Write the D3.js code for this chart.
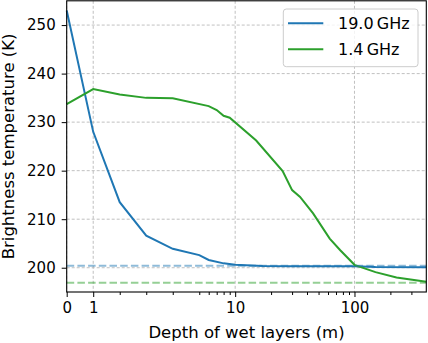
<!DOCTYPE html>
<html>
<head>
<meta charset="utf-8">
<script src="https://cdn.jsdelivr.net/npm/d3@7"></script>
<style>
body { margin: 0; background: #fff; }
text { font-family: "DejaVu Sans", sans-serif; fill: #000; }
</style>
</head>
<body>
<script>
var width = 428, height = 343;

// 19.0 GHz curve
var depth19 = [0, 1, 2, 3, 4, 5, 6, 8, 10, 17, 30, 100, 150, 400];
var tb19 = [253.0, 228.0, 213.5, 206.6, 203.9, 202.6, 201.6, 200.9, 200.6, 200.35, 200.3, 200.3, 200.15, 200.1];

// 1.4 GHz curve
var depth14 = [0, 1, 2, 3, 4, 6, 7, 8, 9, 15, 25, 30, 35, 45, 62, 76, 100, 150, 225, 400];
var tb14 = [233.7, 236.8, 235.7, 235.0, 234.9, 233.3, 232.5, 231.3, 230.9, 226.2, 219.9, 216.0, 214.6, 211.2, 206.0, 203.6, 200.6, 199.1, 198.0, 197.1];

// dashed reference levels
var ref19 = 200.4, ref14 = 196.9;

var xTicks = [0, 1, 10, 100];
var xTickLabels = ["0", "1", "10", "100"];
var xMinor = [2, 3, 4, 5, 6, 7, 8, 9, 20, 30, 40, 50, 60, 70, 80, 90, 200, 300];
var yTicks = [200, 210, 220, 230, 240, 250];

var c19 = "#1f77b4", c14 = "#2ca02c";

// symlog, linthresh 5, linscale 1
var linthresh = 5, linadj = 1 / 0.9;
function fwd(v) {
  return v <= linthresh ? v / linthresh * linadj : linadj + Math.log10(v / linthresh);
}

var pL = 66.7, pR = 426.3, pT = 0.8, pB = 292;
var xs = d3.scaleLinear().domain([0, fwd(400)]).range([pL, pR]);
var ys = d3.scaleLinear().domain([195, 255]).range([pB, pT]);
function x(v) { return xs(fwd(v)); }

var svg = d3.select('body').append('svg').attr('width', width).attr('height', height);

// grid
svg.append('g').selectAll('line').data(xTicks).join('line')
  .attr('x1', d => x(d)).attr('x2', d => x(d)).attr('y1', pT).attr('y2', pB)
  .attr('stroke', '#b0b0b0').attr('stroke-width', 0.8).attr('stroke-dasharray', '3,2');
svg.append('g').selectAll('line').data(yTicks).join('line')
  .attr('x1', pL).attr('x2', pR).attr('y1', d => ys(d)).attr('y2', d => ys(d))
  .attr('stroke', '#b0b0b0').attr('stroke-width', 0.8).attr('stroke-dasharray', '3,2');

// curves
var line = d3.line().x(d => x(d[0])).y(d => ys(d[1]));
svg.append('path').datum(d3.zip(depth19, tb19)).attr('d', line)
  .attr('fill', 'none').attr('stroke', c19).attr('stroke-width', 2);
svg.append('path').datum(d3.zip(depth14, tb14)).attr('d', line)
  .attr('fill', 'none').attr('stroke', c14).attr('stroke-width', 2);

// reference levels
[[ref19, c19], [ref14, c14]].forEach(function(r) {
  svg.append('line').attr('x1', pL).attr('x2', pR)
    .attr('y1', ys(r[0])).attr('y2', ys(r[0]))
    .attr('stroke', r[1]).attr('stroke-opacity', 0.5).attr('stroke-width', 2)
    .attr('stroke-dasharray', '7.5,3.2');
});

// axes
svg.append('g').attr('transform', 'translate(0,' + pB + ')')
  .call(d3.axisBottom(xs).tickValues(xTicks.map(fwd)).tickSize(5).tickPadding(5)
    .tickFormat((d, i) => xTickLabels[i]));
svg.append('g').attr('transform', 'translate(0,' + pB + ')')
  .call(d3.axisBottom(xs).tickValues(xMinor.map(fwd)).tickSize(3).tickFormat(''));
svg.append('g').attr('transform', 'translate(' + pL + ',0)')
  .call(d3.axisLeft(ys).tickValues(yTicks).tickSize(5).tickPadding(6));
svg.selectAll('.domain').remove();
svg.selectAll('.tick line').attr('stroke', '#000').attr('stroke-width', 1);
svg.selectAll('.tick text').style('font-size', '15px').style('font-family', '"DejaVu Sans", sans-serif');

// frame
svg.append('rect').attr('x', pL).attr('y', pT).attr('width', pR - pL).attr('height', pB - pT)
  .attr('fill', 'none').attr('stroke', '#000').attr('stroke-width', 1.1);

// labels
svg.append('text').attr('x', (pL + pR) / 2).attr('y', 337.5).attr('text-anchor', 'middle')
  .style('font-size', '16.5px').text('Depth of wet layers (m)');
svg.append('text').attr('transform', 'translate(13.5,' + (pT + pB) / 2 + ') rotate(-90)')
  .attr('text-anchor', 'middle').style('font-size', '16.5px').text('Brightness temperature (K)');

// legend
var lg = svg.append('g');
lg.append('rect').attr('x', 283.3).attr('y', 9).attr('width', 134.7).attr('height', 57.7).attr('rx', 3)
  .attr('fill', '#fff').attr('fill-opacity', 0.8).attr('stroke', '#cccccc').attr('stroke-width', 1);
[["19.0\u2009GHz", c19], ["1.4\u2009GHz", c14]].forEach(function(e, i) {
  var yy = 23.3 + i * 26;
  lg.append('line').attr('x1', 288).attr('x2', 323.3).attr('y1', yy).attr('y2', yy)
    .attr('stroke', e[1]).attr('stroke-width', 2);
  lg.append('text').attr('x', 338).attr('y', yy + 6).style('font-size', '16px').text(e[0]);
});
</script>
</body>
</html>
